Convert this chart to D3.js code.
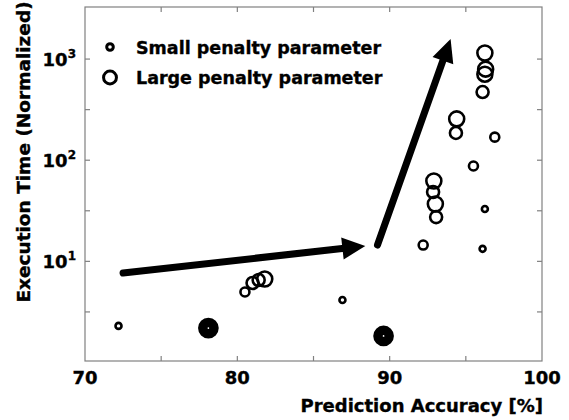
<!DOCTYPE html>
<html>
<head>
<meta charset="utf-8">
<script src="https://cdn.jsdelivr.net/npm/d3@7"></script>
<style>
  body { margin: 0; background: #fff; }
  text { font-family: "DejaVu Sans", Verdana, sans-serif; font-weight: bold; fill: #000; stroke: #000; stroke-width: 0.35px; }
</style>
</head>
<body>
<svg id="chart" width="569" height="420"></svg>
<script>
/* data */
const accuracy = [72.2, 86.9, 80.5, 81.0, 81.4, 81.8, 92.2, 92.9, 92.85, 93.0, 93.05, 95.5, 96.25, 96.1, 94.4, 94.35, 96.9, 96.25, 96.3, 96.25, 96.1];
const execTime = [2.30, 4.15, 4.98, 6.11, 6.54, 6.69, 14.5, 62.3, 48.5, 36.9, 27.4, 87.7, 32.9, 13.3, 256, 186, 169, 1148, 795, 708, 472];
const penaltyLevel = [1, 1, 2, 3, 3, 4, 2, 4, 3, 4, 3, 2, 1, 1, 4, 3, 2, 4, 4, 4, 3];

/* dense (filled-looking) points */
const denseAccuracy = [78.1, 89.6];
const denseTime = [2.19, 1.83];

const xTickValues = [70, 75, 80, 85, 90, 95, 100];
const xTickLabels = [70, 80, 90, 100];
const yTickExponents = [0, 0.5, 1, 1.5, 2, 2.5, 3, 3.5];
const yLabelExponents = [1, 2, 3];

const legendLabels = ["Small penalty parameter", "Large penalty parameter"];
const legendLevels = [1.2, 3.3];

/* trend arrows in data units: [accuracy, time] */
const arrowStarts = [[72.5, 7.67], [89.2, 14.5]];
const arrowEnds = [[88.4, 14.2], [94.0, 1580]];

const svg = d3.select("#chart");
const plotLeft = 85, plotRight = 542, plotTop = 8.5, plotBottom = 362.5;

const x = d3.scaleLinear().domain([70, 100]).range([plotLeft, plotRight]);
const y = d3.scaleLog().domain([1, Math.pow(10, 3.5)]).range([plotBottom, plotTop]);
const r = d3.scaleLinear().domain([1, 4]).range([3, 7.5]);

svg.append("rect").attr("width", 569).attr("height", 420).attr("fill", "#fff");

/* frame */
svg.append("rect")
    .attr("x", plotLeft).attr("y", plotTop - 1.5)
    .attr("width", plotRight - plotLeft).attr("height", plotBottom - plotTop)
    .attr("fill", "none")
    .attr("stroke", "#808080")
    .attr("stroke-width", 1.2);

/* inward ticks on all four sides */
const tickLen = 5;
const tickGroup = svg.append("g").attr("stroke", "#808080").attr("stroke-width", 1.2);
xTickValues.slice(1, -1).forEach(v => {
    tickGroup.append("line").attr("x1", x(v)).attr("x2", x(v)).attr("y1", plotBottom - 1.5).attr("y2", plotBottom - 1.5 - tickLen);
    tickGroup.append("line").attr("x1", x(v)).attr("x2", x(v)).attr("y1", plotTop - 1.5).attr("y2", plotTop - 1.5 + tickLen);
});
yTickExponents.slice(1, -1).forEach(e => {
    const yy = y(Math.pow(10, e));
    tickGroup.append("line").attr("x1", plotLeft).attr("x2", plotLeft + tickLen).attr("y1", yy).attr("y2", yy);
    tickGroup.append("line").attr("x1", plotRight).attr("x2", plotRight - tickLen).attr("y1", yy).attr("y2", yy);
});

/* x tick labels */
svg.selectAll(".xlabel").data(xTickLabels).enter()
    .append("text")
    .attr("class", "xlabel")
    .attr("x", d => x(d))
    .attr("y", 384)
    .attr("text-anchor", "middle")
    .style("font-size", "18px")
    .text(d => d);

/* y tick labels, 10 with superscript */
const yl = svg.selectAll(".ylabel").data(yLabelExponents).enter()
    .append("text")
    .attr("class", "ylabel")
    .attr("x", 76)
    .attr("y", d => y(Math.pow(10, d)) + 7)
    .attr("text-anchor", "end")
    .style("font-size", "18px");
yl.append("tspan").text("10");
yl.append("tspan").attr("dy", -8).style("font-size", "12px").text(d => d);

/* axis titles */
svg.append("text")
    .attr("x", 543)
    .attr("y", 412)
    .attr("text-anchor", "end")
    .style("font-size", "18px")
    .text("Prediction Accuracy [%]");

svg.append("text")
    .attr("transform", "translate(30,152) rotate(-90)")
    .attr("text-anchor", "middle")
    .style("font-size", "18.5px")
    .text("Execution Time (Normalized)");

/* scatter points */
const points = accuracy.map((a, i) => ({ acc: a, time: execTime[i], level: penaltyLevel[i] }));
svg.selectAll(".pt").data(points).enter()
    .append("circle")
    .attr("class", "pt")
    .attr("cx", d => x(d.acc))
    .attr("cy", d => y(d.time))
    .attr("r", d => r(d.level))
    .attr("fill", "none")
    .attr("stroke", "#000")
    .attr("stroke-width", 2.6);

const dense = denseAccuracy.map((a, i) => ({ acc: a, time: denseTime[i] }));
svg.selectAll(".dense").data(dense).enter()
    .append("circle")
    .attr("class", "dense")
    .attr("cx", d => x(d.acc))
    .attr("cy", d => y(d.time))
    .attr("r", 5.6)
    .attr("fill", "#fff")
    .attr("stroke", "#000")
    .attr("stroke-width", 9.5);

/* arrows */
const headLen = 23, headHalf = 11;
arrowStarts.forEach((s, i) => {
    const x0 = x(s[0]), y0 = y(s[1]);
    const x1 = x(arrowEnds[i][0]), y1 = y(arrowEnds[i][1]);
    const len = Math.hypot(x1 - x0, y1 - y0);
    const ux = (x1 - x0) / len, uy = (y1 - y0) / len;
    const bx = x1 - ux * headLen, by = y1 - uy * headLen;
    svg.append("line")
        .attr("x1", x0).attr("y1", y0)
        .attr("x2", bx + ux * 2).attr("y2", by + uy * 2)
        .attr("stroke", "#000")
        .attr("stroke-width", 7)
        .attr("stroke-linecap", "round");
    svg.append("polygon")
        .attr("points", [
            [x1, y1],
            [bx - uy * headHalf, by + ux * headHalf],
            [bx + uy * headHalf, by - ux * headHalf]
        ].map(p => p.join(",")).join(" "))
        .attr("fill", "#000");
});

/* legend */
const legend = svg.selectAll(".legend").data(legendLabels).enter()
    .append("g")
    .attr("class", "legend")
    .attr("transform", (d, i) => "translate(110," + (47 + i * 30.5) + ")");
legend.append("circle")
    .attr("r", (d, i) => r(legendLevels[i]))
    .attr("fill", "none")
    .attr("stroke", "#000")
    .attr("stroke-width", 3);
legend.append("text")
    .attr("x", 26)
    .attr("y", 6.5)
    .style("font-size", "17.5px")
    .text(d => d);
</script>
</body>
</html>
